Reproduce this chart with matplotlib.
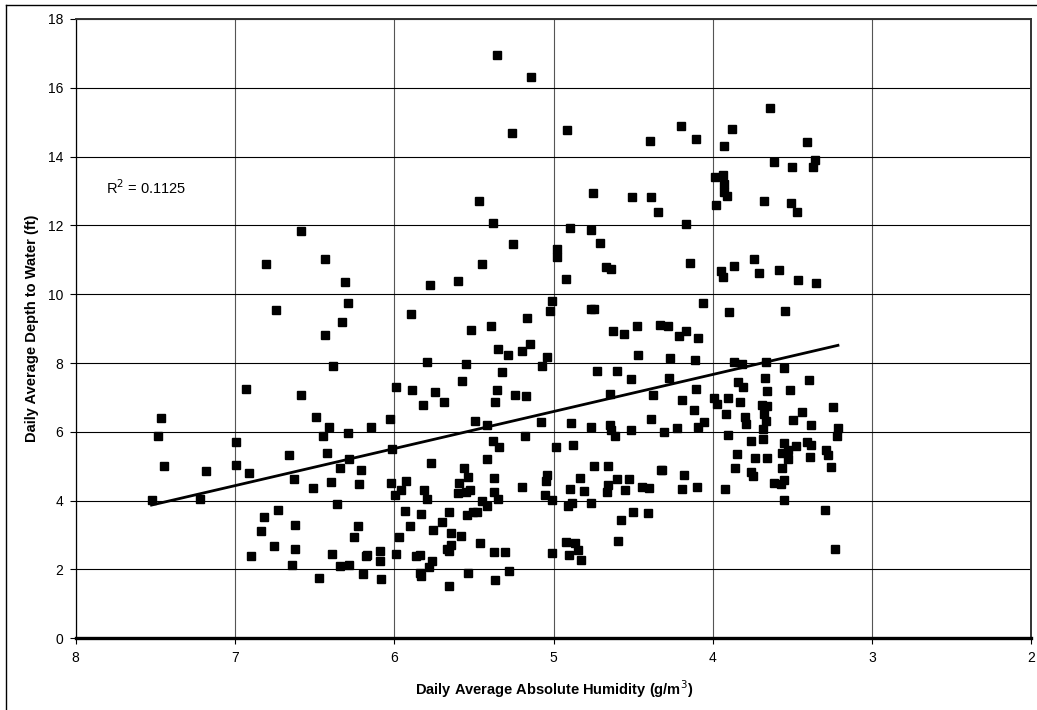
import matplotlib
matplotlib.use("Agg")
import matplotlib.pyplot as plt
from matplotlib.lines import Line2D
import numpy as np

plt.rcParams["font.family"] = ["Liberation Sans", "DejaVu Sans"]

# daily average absolute humidity (g/m3)
humidity_upper_left = [6.587, 6.808, 6.436, 6.309, 6.288, 6.743, 6.326, 6.436, 6.386, 6.929,
                       6.587, 7.463, 6.49, 6.03]
depth_upper_left = [11.85, 10.88, 11.01, 10.35, 9.75, 9.54, 9.19, 8.82, 7.90, 7.26,
                    7.07, 6.41, 6.43, 6.38]

humidity_lower_left = [7.482, 7.443, 7.524, 7.184, 7.217, 6.996, 6.996, 6.912, 6.66, 6.63,
                       6.41, 6.449, 6.29, 6.144, 6.424, 6.282, 6.338, 6.207, 6.40, 6.51,
                       6.219, 6.023, 6.013, 5.996, 6.357, 6.731, 6.816, 6.626, 6.835, 6.225,
                       6.255, 6.754, 6.626, 6.90, 6.645, 6.392, 6.342, 6.282, 6.18, 6.169,
                       6.09, 6.092, 6.198, 6.472, 6.086, 5.97, 5.99, 5.96]
depth_lower_left = [5.87, 5.02, 4.03, 4.87, 4.06, 5.72, 5.05, 4.79, 5.34, 4.63,
                    6.15, 5.87, 5.97, 6.14, 5.39, 5.22, 4.95, 4.88, 4.55, 4.37,
                    4.49, 4.52, 5.50, 4.17, 3.90, 3.73, 3.54, 3.28, 3.13, 3.25,
                    2.95, 2.68, 2.61, 2.38, 2.14, 2.45, 2.11, 2.13, 2.39, 2.43,
                    2.53, 2.25, 1.87, 1.75, 1.71, 2.93, 2.45, 4.31]

humidity_upper_mid = [5.356, 5.143, 5.262, 4.916, 5.467, 4.75, 5.382, 4.899, 4.767, 5.252,
                      4.709, 4.979, 4.979, 5.451, 4.671, 4.642, 5.776, 5.597, 4.92, 5.008,
                      5.021, 5.893, 5.168, 5.52, 5.394, 4.763, 4.748, 4.627]
depth_upper_mid = [16.95, 16.32, 14.70, 14.78, 12.71, 12.95, 12.07, 11.93, 11.88, 11.45,
                   11.49, 11.31, 11.08, 10.87, 10.78, 10.73, 10.28, 10.39, 10.44, 9.81,
                   9.51, 9.42, 9.32, 8.95, 9.07, 9.57, 9.57, 8.92]

humidity_lower_mid = [5.35, 5.287, 5.147, 5.197, 5.044, 5.071, 5.797, 5.549, 5.325, 5.987,
                      5.89, 5.742, 5.818, 5.686, 5.572, 5.358, 5.369, 5.243, 5.174, 4.727,
                      4.602, 4.648, 5.491, 5.417, 5.078, 4.893, 4.765, 4.646, 4.639, 4.612,
                      5.182, 5.379, 5.344, 4.985, 4.88, 5.421, 5.771, 5.562, 5.539, 5.595,
                      5.60, 5.524, 5.55, 5.377, 5.377, 5.346, 5.199, 5.042, 5.05, 5.057,
                      5.01, 4.748, 4.656, 4.834, 4.895, 4.809, 4.66, 4.667, 4.60, 4.883,
                      4.908, 4.765, 5.929, 5.811, 5.792, 5.451, 5.415, 5.935, 5.832, 5.656,
                      5.545, 5.509, 5.48, 5.698, 5.904, 5.759, 5.646, 5.579, 5.459, 5.644,
                      5.671, 5.656, 5.375, 5.308, 5.013, 5.864, 5.839, 5.761, 5.78, 5.839,
                      5.832, 5.535, 5.277, 5.367, 5.656, 4.922, 4.864, 4.849, 4.901, 4.826,
                      4.58, 4.595]
depth_lower_mid = [8.42, 8.22, 8.56, 8.35, 8.19, 7.92, 8.02, 7.98, 7.75, 7.31,
                   7.21, 7.16, 6.77, 6.87, 7.48, 7.22, 6.88, 7.08, 7.03, 7.78,
                   7.76, 7.11, 6.31, 6.20, 6.28, 6.27, 6.15, 6.21, 6.04, 5.88,
                   5.88, 5.73, 5.56, 5.57, 5.62, 5.21, 5.09, 4.95, 4.69, 4.51,
                   4.22, 4.30, 4.25, 4.66, 4.25, 4.06, 4.40, 4.76, 4.56, 4.16,
                   4.01, 5.00, 5.00, 4.67, 4.33, 4.28, 4.45, 4.25, 4.64, 3.93,
                   3.85, 3.93, 4.58, 4.31, 4.05, 3.98, 3.85, 3.70, 3.61, 3.67,
                   3.58, 3.66, 3.66, 3.38, 3.27, 3.15, 3.07, 2.96, 2.77, 2.70,
                   2.61, 2.54, 2.52, 2.50, 2.49, 2.39, 2.41, 2.24, 2.06, 1.91,
                   1.81, 1.90, 1.97, 1.68, 1.53, 2.79, 2.77, 2.56, 2.43, 2.27,
                   3.45, 2.83]

humidity_upper_right = [3.644, 4.199, 4.394, 4.109, 3.879, 3.931, 3.407, 3.617, 3.502, 3.357,
                        3.372, 3.985, 3.937, 3.931, 3.931, 3.91, 3.983, 4.507, 4.387, 4.343,
                        4.17, 3.682, 3.512, 3.47, 4.142, 3.948, 3.937, 3.868, 3.74, 3.709,
                        3.587, 3.466, 3.351, 4.061, 3.902, 3.546, 4.559, 4.475, 4.329, 4.283,
                        4.17, 4.214, 4.094]
depth_upper_right = [15.41, 14.89, 14.45, 14.51, 14.81, 14.30, 14.42, 13.83, 13.69, 13.89,
                     13.71, 13.40, 13.46, 13.21, 12.97, 12.86, 12.60, 12.82, 12.82, 12.39,
                     12.05, 12.72, 12.65, 12.40, 10.91, 10.67, 10.50, 10.82, 11.02, 10.63,
                     10.71, 10.40, 10.32, 9.76, 9.48, 9.50, 8.84, 9.08, 9.12, 9.08,
                     8.93, 8.78, 8.74]

humidity_lower_right = [4.471, 4.27, 4.115, 4.511, 4.277, 4.103, 4.375, 4.193, 4.12, 4.39,
                        4.511, 4.31, 4.226, 4.092, 4.054, 3.868, 3.82, 3.668, 3.553, 3.674,
                        3.399, 3.843, 3.81, 3.662, 3.518, 3.99, 3.977, 3.906, 3.833, 3.916,
                        3.692, 3.658, 3.68, 3.665, 3.796, 3.79, 3.688, 3.443, 3.497, 3.387,
                        3.246, 3.215, 3.223, 3.906, 3.763, 3.684, 3.556, 3.476, 3.411, 3.387,
                        3.568, 3.53, 3.528, 3.289, 3.277, 3.39, 3.847, 3.736, 3.662, 3.566,
                        3.257, 3.861, 3.763, 3.746, 3.618, 3.556, 3.575, 3.927, 3.551, 3.297,
                        3.232, 4.55, 4.528, 4.448, 4.40, 4.327, 4.318, 4.184, 4.193, 4.098,
                        4.503, 4.41]
depth_lower_right = [8.22, 8.14, 8.10, 7.55, 7.56, 7.24, 7.07, 6.94, 6.64, 6.38,
                     6.06, 5.99, 6.10, 6.14, 6.30, 8.03, 7.96, 8.03, 7.87, 7.58,
                     7.51, 7.46, 7.29, 7.18, 7.22, 6.99, 6.80, 6.98, 6.87, 6.52,
                     6.77, 6.74, 6.53, 6.33, 6.43, 6.23, 6.07, 6.59, 6.35, 6.20,
                     6.72, 6.11, 5.87, 5.92, 5.74, 5.80, 5.68, 5.58, 5.71, 5.63,
                     5.39, 5.46, 5.22, 5.46, 5.32, 5.27, 5.36, 5.24, 5.25, 4.96,
                     4.98, 4.95, 4.82, 4.72, 4.52, 4.59, 4.48, 4.33, 4.02, 3.72,
                     2.61, 4.32, 4.64, 4.40, 4.38, 4.88, 4.90, 4.74, 4.33, 4.40,
                     3.67, 3.64]

R2_LABEL = "R$^2$ = 0.1125"
X_TICKS = [8, 7, 6, 5, 4, 3, 2]
Y_TICKS = list(range(0, 19, 2))

hum = np.array(humidity_upper_left + humidity_lower_left + humidity_upper_mid
               + humidity_lower_mid + humidity_upper_right + humidity_lower_right)
dep = np.array(depth_upper_left + depth_lower_left + depth_upper_mid
               + depth_lower_mid + depth_upper_right + depth_lower_right)
assert len(hum) == len(dep)

W, H = 1037, 710
fig = plt.figure(figsize=(W / 100, H / 100), dpi=100)
fig.patch.set_facecolor("white")

# outer chart border (left and top only, rest is cropped)
fig.add_artist(Line2D([5.5 / W, 5.5 / W], [0, 1 - 5 / H], color="black", lw=1.0))
fig.add_artist(Line2D([5.5 / W, 1], [1 - 5 / H, 1 - 5 / H], color="black", lw=1.0))

left, right, top, bottom = 75.7, 1031.5, 19.0, 638.3
ax = fig.add_axes([left / W, 1 - bottom / H, (right - left) / W, (bottom - top) / H])

ax.set_xlim(8, 2)
ax.set_ylim(0, 18)
ax.set_xticks(X_TICKS)
ax.set_yticks(Y_TICKS)
ax.tick_params(axis="both", direction="out", length=4, width=0.8, labelsize=10, color="black")
ax.tick_params(axis="x", pad=5)
ax.tick_params(axis="y", pad=5)

ax.grid(axis="y", color="black", linewidth=0.8)
ax.grid(axis="x", color="#555555", linewidth=0.8)
ax.set_axisbelow(True)

ax.spines["bottom"].set_linewidth(2.4)
ax.spines["bottom"].set_color("black")
ax.spines["left"].set_linewidth(0.9)
ax.spines["left"].set_color("black")
for s in ["top", "right"]:
    ax.spines[s].set_linewidth(1.4)
    ax.spines[s].set_color("#333333")

ax.plot(hum, dep, linestyle="none", marker="s", markersize=6.3,
        markerfacecolor="black", markeredgecolor="black", zorder=3)

# linear trendline across the data range
slope, intercept = np.polyfit(hum, dep, 1)
xs = np.array([hum.max(), hum.min()])
ax.plot(xs, slope * xs + intercept, color="black", linewidth=2.0, zorder=4)

ax.text(7.81, 13.1, R2_LABEL, fontsize=10.5, ha="left", va="center")

ax.set_xlabel("Daily Average Absolute Humidity (g/m$^3$)", fontsize=10.5,
              fontweight="bold", labelpad=10)
ax.set_ylabel("Daily Average Depth to Water (ft)", fontsize=10.5,
              fontweight="bold", labelpad=6)

fig.savefig("out.png", dpi=100)
